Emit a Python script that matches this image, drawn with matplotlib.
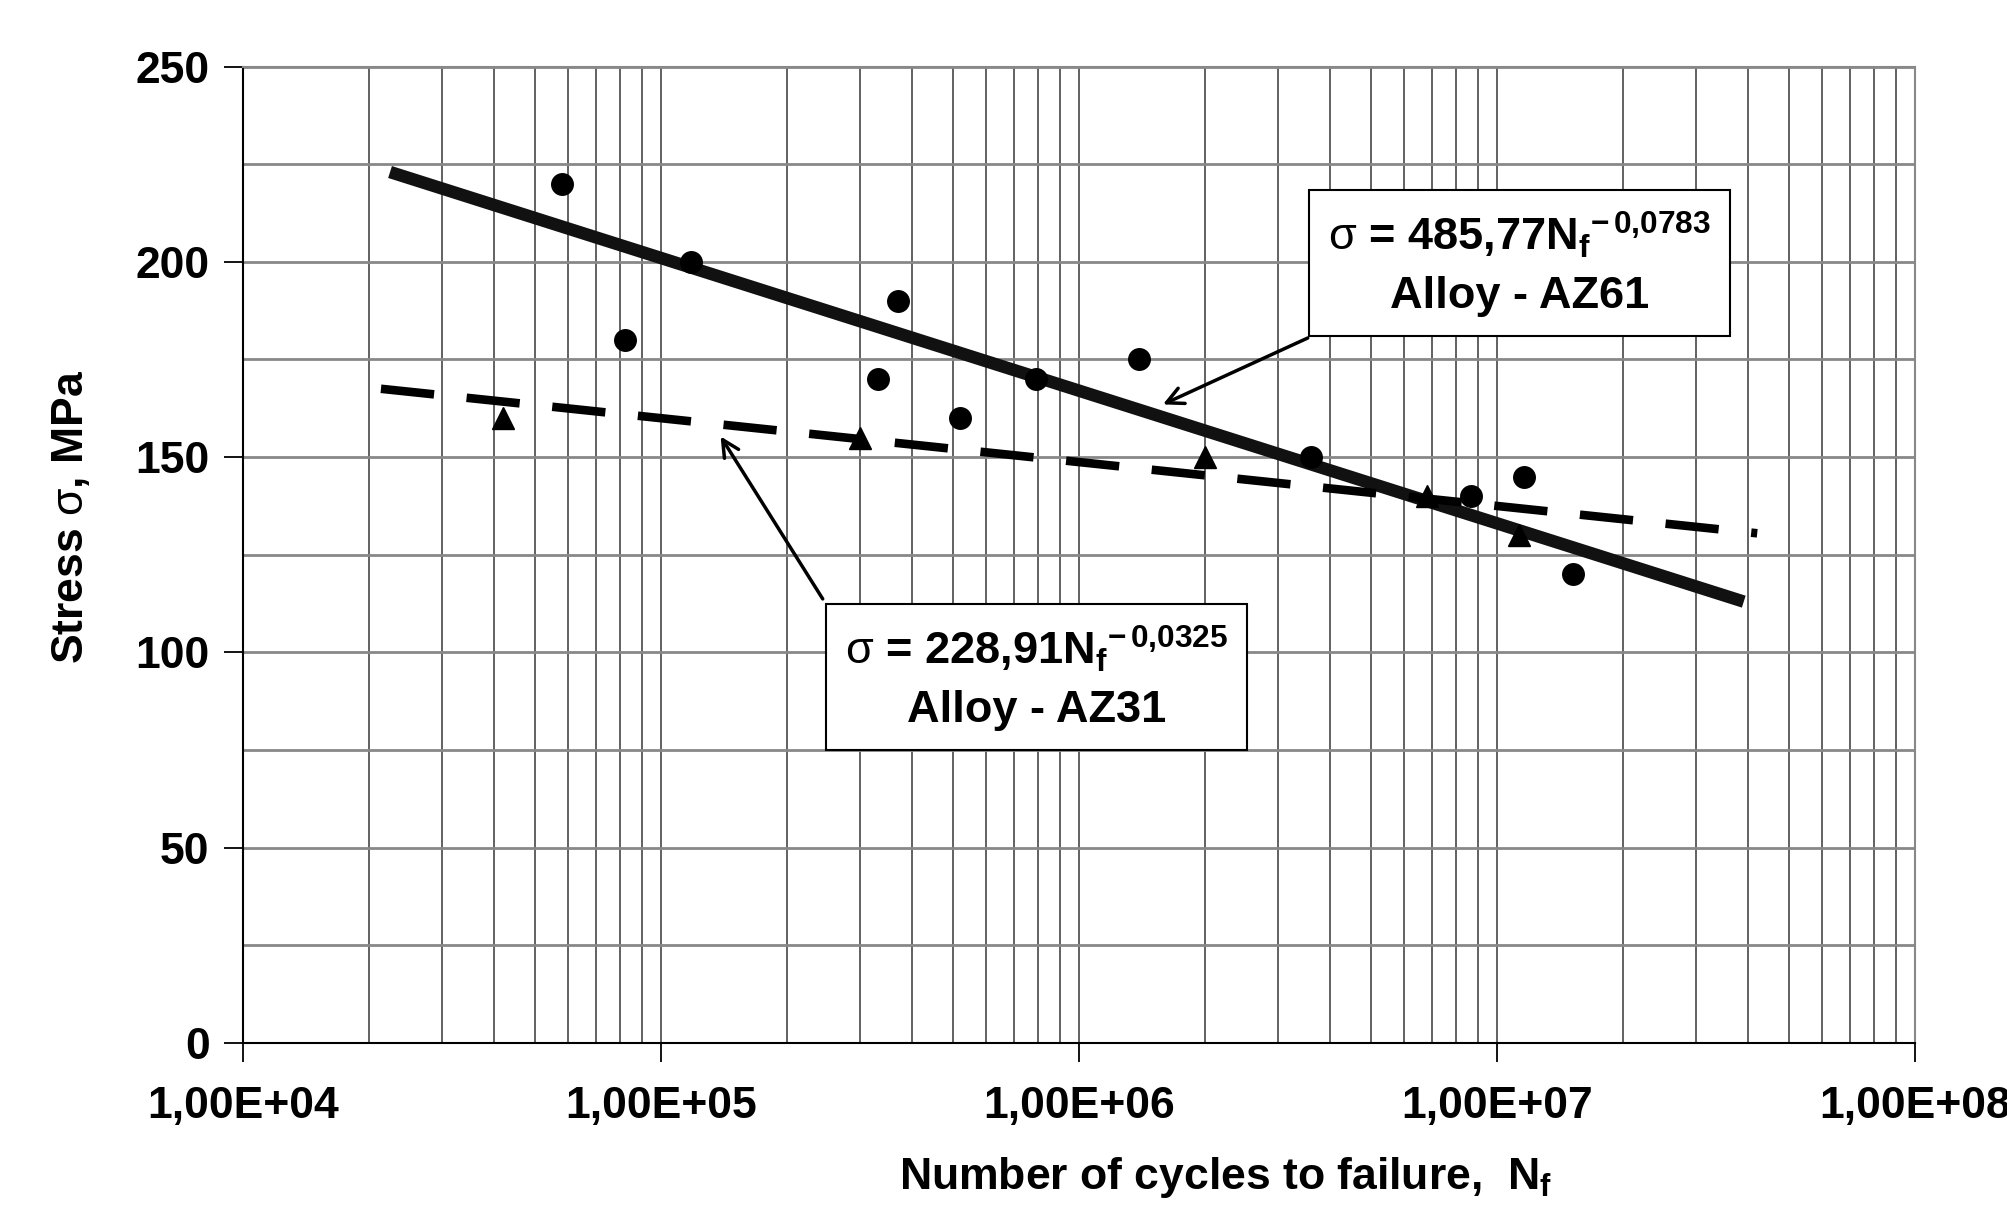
import matplotlib
matplotlib.use("Agg")
import matplotlib.pyplot as plt
from matplotlib.ticker import LogLocator, FixedLocator, NullFormatter, FixedFormatter

plt.rcParams["font.family"] = ["Liberation Sans", "DejaVu Sans"]
plt.rcParams["mathtext.fontset"] = "custom"
plt.rcParams["mathtext.rm"] = "Liberation Sans"
plt.rcParams["mathtext.bf"] = "Liberation Sans:bold"
plt.rcParams["mathtext.it"] = "Liberation Sans:italic"

# AZ61 test points (circles)
az61_cycles = [5.8e4, 8.2e4, 1.18e5, 3.3e5, 3.7e5, 5.2e5, 7.9e5, 1.39e6,
               3.6e6, 8.7e6, 1.16e7, 1.52e7]
az61_stress = [220, 180, 200, 170, 190, 160, 170, 175, 150, 140, 145, 120]

# AZ31 test points (triangles)
az31_cycles = [4.2e4, 3.0e5, 2.0e6, 6.8e6, 1.13e7]
az31_stress = [160, 155, 150, 140, 130]

# trend lines as drawn in the figure
az61_fit_cycles = [2.25e4, 3.9e7]
az61_fit_stress = [223, 113]
az31_fit_cycles = [2.14e4, 4.2e7]
az31_fit_stress = [167.5, 130.5]

x_ticks = [1e4, 1e5, 1e6, 1e7, 1e8]
x_labels = ["1,00E+04", "1,00E+05", "1,00E+06", "1,00E+07", "1,00E+08"]
y_ticks = [0, 50, 100, 150, 200, 250]

fig = plt.figure(figsize=(20.07, 12.08), dpi=100)
ax = fig.add_axes([0.121, 0.1366, 0.833, 0.8083])

ax.set_xscale("log")
ax.set_xlim(1e4, 1e8)
ax.set_ylim(0, 250)

ax.xaxis.set_major_locator(FixedLocator(x_ticks))
ax.xaxis.set_major_formatter(FixedFormatter(x_labels))
ax.xaxis.set_minor_locator(LogLocator(base=10, subs=range(2, 10)))
ax.xaxis.set_minor_formatter(NullFormatter())
ax.yaxis.set_major_locator(FixedLocator(y_ticks))
ax.yaxis.set_minor_locator(FixedLocator(range(0, 251, 25)))

ax.grid(True, which="both", axis="x", color="#555555", lw=1.3)
ax.grid(True, which="both", axis="y", color="#888888", lw=2)
ax.set_axisbelow(True)

ax.tick_params(axis="both", which="major", direction="out", length=14, width=1.3,
               labelsize=32, pad=10)
ax.tick_params(axis="x", which="major", pad=17)
ax.tick_params(axis="both", which="minor", length=0)
for lab in ax.get_xticklabels() + ax.get_yticklabels():
    lab.set_fontweight("bold")

for s in ["top", "right"]:
    ax.spines[s].set_color("#888888")
    ax.spines[s].set_linewidth(1.5)
for s in ["left", "bottom"]:
    ax.spines[s].set_linewidth(1.5)

ax.plot(az61_fit_cycles, az61_fit_stress, color="#111111", lw=9,
        solid_capstyle="butt")
ax.plot(az31_fit_cycles, az31_fit_stress, color="black", lw=6.2,
        dashes=(6.2, 3.8), dash_capstyle="butt")
ax.plot(az61_cycles, az61_stress, "o", color="black", ms=15.5, ls="none")
ax.plot(az31_cycles, az31_stress, "^", color="black", ms=16, ls="none")

ax.set_xlabel(r"Number of cycles to failure,  N$_\mathbf{f}$", fontsize=32,
              fontweight="bold", va="center")
ax.xaxis.set_label_coords(0.588, -0.138)
ax.set_ylabel(r"Stress $\mathrm{\sigma}$, MPa", fontsize=32,
              fontweight="bold", va="center")
ax.yaxis.set_label_coords(-0.103, 0.539)

box = dict(boxstyle="square,pad=0.42", fc="white", ec="black", lw=1.5)
ax.text(1.135e7, 199.7,
        r"$\mathrm{\sigma}$ = 485,77N$_\mathbf{f}{}^\mathbf{-\,0{,}0783}$" + "\nAlloy - AZ61",
        fontsize=32.5, fontweight="bold", ha="center", va="center",
        linespacing=1.5, bbox=box)
ax.text(7.93e5, 93.7,
        r"$\mathrm{\sigma}$ = 228,91N$_\mathbf{f}{}^\mathbf{-\,0{,}0325}$" + "\nAlloy - AZ31",
        fontsize=32.5, fontweight="bold", ha="center", va="center",
        linespacing=1.5, bbox=box)

arrow = dict(arrowstyle="->", color="black", lw=2.5, mutation_scale=30,
             shrinkA=0, shrinkB=0)
ax.annotate("", xy=(1.59e6, 163.5), xytext=(3.53e6, 180.5), arrowprops=arrow)
ax.annotate("", xy=(1.39e5, 155.3), xytext=(2.44e5, 113.7), arrowprops=arrow)

fig.savefig("out.png", dpi=100)
